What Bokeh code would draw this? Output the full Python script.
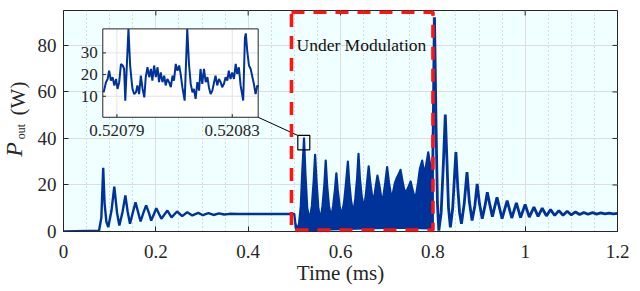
import math
from bokeh.plotting import figure
from bokeh.layouts import row
from bokeh.models import Range1d, FixedTicker, BoxAnnotation, Label
from bokeh.core.properties import value
from bokeh.embed import file_html
from bokeh.resources import INLINE

FONT = "Liberation Serif"
BLUE = "#00339A"
INK = "#262626"

# ---------------- data ----------------
# start-up transient and steady state before modulation (t in ms, P in W)
t_pre = [0.0, 0.077, 0.082, 0.086, 0.089, 0.093, 0.097, 0.104, 0.110, 0.116, 0.121,
         0.128, 0.134, 0.139, 0.144, 0.150, 0.156, 0.162, 0.167, 0.173, 0.179, 0.185, 0.190,
         0.196, 0.201, 0.207, 0.212, 0.225, 0.234, 0.246, 0.257, 0.268, 0.279, 0.292, 0.302,
         0.314, 0.325, 0.337, 0.348, 0.360, 0.380, 0.450, 0.500]
p_pre = [0.0, 0.3, 6.0, 27.4, 12.0, 4.0, 1.9, 9.0, 19.3, 8.0, 2.6,
         8.5, 15.5, 8.5, 3.3, 8.0, 12.6, 8.0, 4.3, 8.0, 11.2, 8.0, 4.7,
         7.5, 10.0, 7.5, 5.5, 9.0, 6.1, 8.6, 6.6, 8.3, 6.9, 8.0, 7.0,
         7.9, 7.1, 7.8, 7.3, 7.6, 7.5, 7.5, 7.5]

# under modulation: envelope of the fast oscillation
t_mod_up = [0.500, 0.502, 0.505, 0.510, 0.514, 0.517, 0.521, 0.524, 0.528, 0.533, 0.538, 0.542,
            0.545, 0.548, 0.552, 0.557, 0.561, 0.565, 0.568, 0.571, 0.575, 0.580, 0.584, 0.588,
            0.591, 0.594, 0.598, 0.603, 0.608, 0.612, 0.616, 0.619, 0.623, 0.628, 0.632, 0.636,
            0.639, 0.642, 0.646, 0.651, 0.655, 0.658, 0.661, 0.664, 0.668, 0.672, 0.676, 0.680,
            0.684, 0.688, 0.692, 0.697, 0.701, 0.705, 0.709, 0.713, 0.718, 0.722, 0.727, 0.730,
            0.734, 0.738, 0.742, 0.747, 0.752, 0.756, 0.760, 0.764, 0.768, 0.772, 0.777, 0.781,
            0.785, 0.790, 0.794, 0.797, 0.800]
p_mod_up = [7.5, 4.0, 1.2, 3.0, 11.0, 25.0, 40.0, 25.0, 10.0, 5.0, 11.0, 22.0,
            33.0, 22.0, 10.0, 5.0, 11.0, 20.0, 30.5, 20.0, 11.0, 6.0, 11.0, 18.0,
            25.0, 18.0, 11.0, 7.0, 13.0, 21.0, 30.0, 21.0, 13.0, 8.0, 14.0, 23.0,
            33.4, 23.0, 15.0, 10.0, 16.0, 22.0, 28.0, 22.0, 16.0, 13.0, 19.0, 24.0,
            20.0, 15.0, 14.0, 21.0, 27.7, 21.0, 16.0, 16.0, 21.0, 23.0, 25.0, 26.5,
            22.0, 18.0, 17.0, 19.0, 21.5, 18.0, 15.0, 16.0, 21.0, 27.0, 30.5, 25.0,
            28.0, 34.0, 29.0, 25.0, 30.0]
t_mod_low = [0.500, 0.503, 0.505, 0.530, 0.560, 0.600, 0.650, 0.700, 0.750, 0.790, 0.800]
p_mod_low = [7.5, 1.5, 0.4, 0.6, 0.8, 1.0, 1.3, 1.5, 1.5, 1.3, 1.0]

# after modulation
t_post = [0.800, 0.8036, 0.807, 0.810, 0.813, 0.818, 0.823, 0.827, 0.831, 0.834, 0.838, 0.843,
          0.847, 0.850, 0.854, 0.858, 0.862, 0.868, 0.874, 0.879, 0.885, 0.891, 0.896, 0.901,
          0.907, 0.913, 0.918, 0.924, 0.929, 0.939, 0.950, 0.961, 0.971, 0.981, 0.990, 1.000,
          1.009, 1.019, 1.028, 1.037, 1.046, 1.055, 1.064, 1.073, 1.082, 1.091, 1.100, 1.109,
          1.118, 1.127, 1.136, 1.146, 1.155, 1.164, 1.173, 1.182, 1.191, 1.200]
p_post = [30.0, 92.1, 45.0, 12.0, 0.4, 8.0, 30.0, 50.3, 28.0, 10.0, 1.8, 10.0,
          24.0, 34.1, 19.0, 8.0, 3.3, 12.0, 25.5, 13.0, 4.7, 11.0, 20.5, 12.0,
          5.5, 11.0, 16.9, 11.0, 6.4, 14.7, 5.5, 13.3, 5.8, 12.3, 6.0, 11.6,
          6.2, 10.5, 6.5, 10.0, 6.7, 9.4, 6.9, 9.0, 7.0, 8.7, 7.1, 8.4,
          7.3, 8.2, 7.4, 8.1, 7.5, 8.0, 7.6, 7.9, 7.6, 7.8]

# inset (zoom near t = 0.52081 ms)
inset_t = [0.5207854, 0.5207862, 0.5207868, 0.5207873, 0.5207879, 0.5207885, 0.5207891, 0.5207897,
           0.5207902, 0.5207908, 0.5207914, 0.5207920, 0.5207925, 0.5207929, 0.5207940, 0.5207946,
           0.5207951, 0.5207954, 0.5207960, 0.5207966, 0.5207971, 0.5207977, 0.5207983, 0.5207989,
           0.5207995, 0.5208000, 0.5208006, 0.5208012, 0.5208018, 0.5208023, 0.5208029, 0.5208035,
           0.5208041, 0.5208046, 0.5208052, 0.5208058, 0.5208064, 0.5208069, 0.5208075, 0.5208081,
           0.5208087, 0.5208093, 0.5208098, 0.5208104, 0.5208110, 0.5208116, 0.5208121, 0.5208127,
           0.5208135, 0.5208144, 0.5208150, 0.5208156, 0.5208162, 0.5208167, 0.5208173, 0.5208179,
           0.5208185, 0.5208190, 0.5208196, 0.5208202, 0.5208208, 0.5208214, 0.5208219, 0.5208225,
           0.5208231, 0.5208237, 0.5208242, 0.5208248, 0.5208254, 0.5208260, 0.5208265, 0.5208271,
           0.5208277, 0.5208283, 0.5208288, 0.5208294, 0.5208300, 0.5208306, 0.5208312, 0.5208317,
           0.5208323, 0.5208329, 0.5208335, 0.5208338, 0.5208344, 0.5208347, 0.5208352, 0.5208358,
           0.5208364, 0.5208369, 0.5208375, 0.5208381, 0.5208387, 0.5208390]
inset_p = [11.8, 16.5, 18.0, 21.8, 17.2, 18.8, 15.0, 18.0,
           13.4, 16.5, 24.9, 24.2, 22.6, 8.0, 41.0, 24.0,
           17.0, 13.4, 11.0, 11.8, 15.0, 11.0, 19.5, 13.4,
           9.5, 18.8, 23.4, 18.8, 22.6, 17.2, 24.2, 18.8,
           23.4, 16.5, 21.0, 16.5, 19.5, 15.0, 18.0, 16.5,
           14.2, 19.5, 17.2, 24.9, 21.8, 24.2, 20.3, 14.2,
           8.0, 41.0, 24.9, 15.7, 11.8, 13.4, 8.8, 16.5,
           12.6, 22.6, 15.7, 22.6, 16.5, 18.8, 14.2, 11.0,
           12.6, 16.5, 19.5, 15.0, 18.0, 16.5, 14.2, 15.7,
           18.8, 17.2, 21.8, 18.0, 21.0, 18.0, 24.9, 20.3,
           23.4, 15.0, 10.3, 8.0, 37.0, 39.0, 31.0, 24.2,
           22.6, 19.5, 15.7, 11.0, 15.0, 14.2]

x_ticks = [0, 0.2, 0.4, 0.6, 0.8, 1, 1.2]
x_minor = [0.05, 0.1, 0.15, 0.25, 0.3, 0.35, 0.45, 0.5, 0.55, 0.65, 0.7, 0.75,
           0.85, 0.9, 0.95, 1.05, 1.1, 1.15]
y_ticks = [0, 20, 40, 60, 80]
inset_x_ticks = [0.52079, 0.52083]
inset_x_labels = ["0.52079", "0.52083"]
inset_y_ticks = [10, 20, 30]

# ---------------- layout parameters ----------------
X_MAX, Y_MAX = 1.2, 95
inset_xlim = (0.5207851, 0.5208390)
inset_ylim = (0.3, 41.1)
INSET_AT = (0.0851, 0.4217, 49.1, 87.1)      # inset frame in main-axis units
ZOOM_BOX = (0.5075, 0.5335, 35.1, 41.3)       # little box marking the zoomed spot
MOD_WIN = (0.4938, 0.8003, 0.6, 94.3)         # red dashed window
H = 291
LAB_W = 34
B_TOP, B_BOT = 10, 60                         # frame margins (px)

p = figure(width=640 - LAB_W, height=H, output_backend="svg", toolbar_location=None,
           x_range=Range1d(0, X_MAX), y_range=Range1d(0, Y_MAX),
           min_border_left=63 - LAB_W, min_border_right=23, min_border_top=B_TOP,
           min_border_bottom=B_BOT)
p.background_fill_color = "#F0FFFF"
p.border_fill_color = "white"
p.outline_line_color = INK
p.outline_line_width = 1

# inset ranges mapped through the main frame
ax0, ax1, ay0, ay1 = INSET_AT
sx = (inset_xlim[1] - inset_xlim[0]) / (ax1 - ax0)
sy = (inset_ylim[1] - inset_ylim[0]) / (ay1 - ay0)
p.extra_x_ranges = {"ix": Range1d(inset_xlim[0] - ax0 * sx, inset_xlim[0] + (X_MAX - ax0) * sx)}
p.extra_y_ranges = {"iy": Range1d(inset_ylim[0] - ay0 * sy, inset_ylim[0] + (Y_MAX - ay0) * sy)}

# axes
p.xaxis.ticker = FixedTicker(ticks=x_ticks, minor_ticks=x_minor)
p.yaxis.ticker = FixedTicker(ticks=y_ticks)
p.xaxis.major_label_overrides = {0: "0", 1: "1"}
for ax in (p.xaxis[0], p.yaxis[0]):
    ax.axis_line_color = INK
    ax.major_tick_line_color = INK
    ax.major_tick_in = 5
    ax.major_tick_out = 0
    ax.minor_tick_line_color = None
    ax.major_label_text_font = FONT
    ax.major_label_text_font_size = "19px"
    ax.major_label_text_color = INK
p.xaxis.major_label_standoff = 9
p.yaxis.major_label_standoff = 7
p.xaxis.axis_label = "Time (ms)"
p.xaxis.axis_label_text_font = FONT
p.xaxis.axis_label_text_font_size = "21px"
p.xaxis.axis_label_text_font_style = "normal"
p.xaxis.axis_label_text_color = INK
p.xaxis.axis_label_standoff = 0

# grid
p.xgrid.ticker = FixedTicker(ticks=x_ticks, minor_ticks=x_minor)
p.ygrid.ticker = FixedTicker(ticks=y_ticks)
p.grid.grid_line_color = "#DDDDDD"
p.grid.grid_line_width = 1
p.xgrid.minor_grid_line_color = "#BBBBBB"
p.xgrid.minor_grid_line_dash = "1 3"

# top / right inward ticks (box)
tl_y = Y_MAX * 5 / 221
tl_x = X_MAX * 5 / 554
p.segment(x0=x_ticks[1:-1], y0=[Y_MAX] * 5, x1=x_ticks[1:-1], y1=[Y_MAX - tl_y] * 5,
          line_color=INK, line_width=1)
p.segment(x0=[X_MAX] * 4, y0=y_ticks[1:], x1=[X_MAX - tl_x] * 4, y1=y_ticks[1:],
          line_color=INK, line_width=1)

# ---------------- signal ----------------
p.line(t_pre, p_pre, line_color=BLUE, line_width=2.4)
env_x = t_mod_up + t_mod_low[::-1]
env_y = p_mod_up + p_mod_low[::-1]
p.patch(env_x, env_y, fill_color=BLUE, line_color=BLUE, line_width=2.2, line_join="round")
p.line(t_post, p_post, line_color=BLUE, line_width=2.8)

# ---------------- inset ----------------
ir = dict(x_range_name="ix", y_range_name="iy")
p.quad(left=[inset_xlim[0]], right=[inset_xlim[1]], bottom=[inset_ylim[0]], top=[inset_ylim[1]],
       fill_color="white", line_color=None, **ir)
p.segment(x0=inset_x_ticks, y0=[inset_ylim[0]] * 2, x1=inset_x_ticks, y1=[inset_ylim[1]] * 2,
          line_color="#E3E3E3", line_width=1, **ir)
p.segment(x0=[inset_xlim[0]] * 3, y0=inset_y_ticks, x1=[inset_xlim[1]] * 3, y1=inset_y_ticks,
          line_color="#E3E3E3", line_width=1, **ir)
p.line(inset_t, inset_p, line_color=BLUE, line_width=2.0, **ir)
itx = (inset_xlim[1] - inset_xlim[0]) * 0.02
ity = (inset_ylim[1] - inset_ylim[0]) * 0.035
p.segment(x0=[inset_xlim[0]] * 3, y0=inset_y_ticks, x1=[inset_xlim[0] + itx] * 3, y1=inset_y_ticks,
          line_color=INK, **ir)
p.segment(x0=inset_x_ticks, y0=[inset_ylim[0]] * 2, x1=inset_x_ticks, y1=[inset_ylim[0] + ity] * 2,
          line_color=INK, **ir)
p.quad(left=[inset_xlim[0]], right=[inset_xlim[1]], bottom=[inset_ylim[0]], top=[inset_ylim[1]],
       fill_color=None, line_color=INK, line_width=1, **ir)
p.text(x=[inset_xlim[0]] * 3, y=inset_y_ticks, text=[str(v) for v in inset_y_ticks],
       x_offset=-5, text_align="right", text_baseline="middle", text_font=value(FONT),
       text_font_size="17px", text_color=INK, **ir)
p.text(x=inset_x_ticks, y=[inset_ylim[0]] * 2, text=inset_x_labels, y_offset=8,
       text_align="center", text_baseline="top", text_font=value(FONT),
       text_font_size="17px", text_color=INK, **ir)

# zoom marker and connector
zx0, zx1, zy0, zy1 = ZOOM_BOX
p.quad(left=[zx0], right=[zx1], bottom=[zy0], top=[zy1], fill_color=None,
       line_color="black", line_width=1.2)
p.segment(x0=[ax1], y0=[ay0], x1=[zx0], y1=[zy1], line_color="black", line_width=1)

# red dashed modulation window
mx0, mx1, my0, my1 = MOD_WIN
p.add_layout(BoxAnnotation(left=mx0, right=mx1, bottom=my0, top=my1,
                           fill_color=None, fill_alpha=0, line_color="#FF1414",
                           line_alpha=1.0, line_width=3.6, line_dash="13 9"))
p.add_layout(Label(x=0.5047, y=80.0, text="Under Modulation", text_font=FONT,
                   text_font_size="17.5px", text_color="#111111", text_baseline="alphabetic"))

# ---------------- y-axis title P_out (W) in its own strip ----------------
# the strip's frame is aligned with the main frame; its y range counts pixel rows from the top
lab = figure(width=LAB_W, height=H, output_backend="svg", toolbar_location=None,
             x_range=Range1d(0, LAB_W), y_range=Range1d(H - B_BOT, B_TOP),
             x_axis_location=None, y_axis_location=None,
             min_border_left=0, min_border_right=0, min_border_top=B_TOP,
             min_border_bottom=B_BOT)
lab.grid.visible = False
lab.outline_line_color = None
lab.background_fill_color = "white"
lab.border_fill_color = "white"
ang = math.pi / 2
lab.text(x=[13], y=[149], text=["P"], angle=ang, text_font=value(FONT),
         text_font_style="italic", text_font_size="24px", text_color=INK,
         text_baseline="middle", text_align="center")
lab.text(x=[20], y=[131], text=["out"], angle=ang, text_font=value(FONT),
         text_font_size="12px", text_color=INK,
         text_baseline="middle", text_align="center")
lab.text(x=[17], y=[98], text=["(W)"], angle=ang, text_font=value(FONT),
         text_font_size="21px", text_color=INK,
         text_baseline="middle", text_align="center")

layout = row(lab, p, spacing=0)
open("out.html", "w").write(file_html(layout, INLINE))
